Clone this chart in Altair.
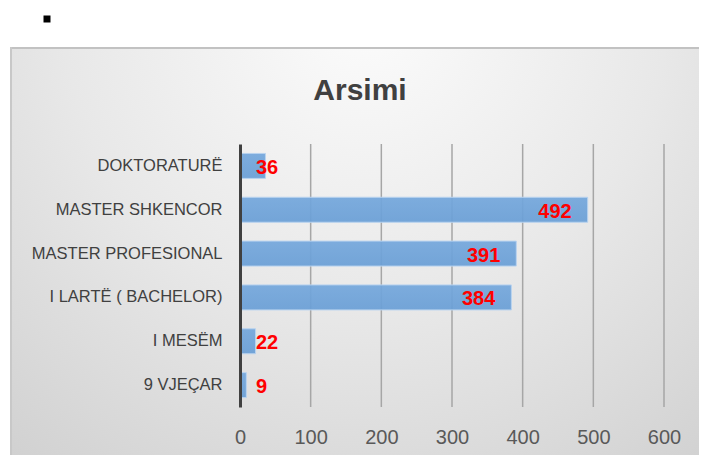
import altair as alt
import pandas as pd

categories = ["DOKTORATURË", "MASTER SHKENCOR", "MASTER PROFESIONAL",
              "I LARTË ( BACHELOR)", "I MESËM", "9 VJEÇAR"]
values = [36, 492, 391, 384, 22, 9]
x_ticks = [0, 100, 200, 300, 400, 500, 600]
title_text = "Arsimi"

df = pd.DataFrame({"cat": categories, "val": values})
grid_df = pd.DataFrame({"t": x_ticks[1:]})

W, H = 424, 263
LEFT, TOP, RIGHT, BOTTOM = 232, 136, 35, 48

xscale = alt.Scale(domain=[0, 600], nice=False)
yscale = alt.Scale(domain=categories, paddingInner=0.43, paddingOuter=0.215)

x_axis = alt.Axis(values=x_ticks, grid=False, domain=False, ticks=False,
                  labelFont="Liberation Sans", labelFontSize=20,
                  labelColor="#595959", labelPadding=20, title=None, zindex=1,
                  labelFlush=False, labelOverlap=False)

one = pd.DataFrame({"a": [0]})

bg = alt.Chart(one).mark_rect(
    clip=False,
    color=alt.Gradient(
        gradient="radial",
        stops=[alt.GradientStop(color="#fcfcfc", offset=0),
               alt.GradientStop(color="#e8e8e8", offset=0.5),
               alt.GradientStop(color="#cecece", offset=1)],
        x1=0.5, y1=0.15, r1=0, x2=0.5, y2=0.15, r2=0.85,
    ),
).encode(
    x=alt.value(10 - 240), x2=alt.value(720 - 240),
    y=alt.value(47 - 144), y2=alt.value(470 - 144),
)

border = alt.Chart(one).mark_rule(
    clip=False, color="#c2c2c2", strokeWidth=2
).encode(x=alt.value(10 - 240), x2=alt.value(720 - 240), y=alt.value(48 - 144))
border_l = alt.Chart(one).mark_rule(
    clip=False, color="#c8c8c8", strokeWidth=2
).encode(x=alt.value(11 - 240), y=alt.value(47 - 144), y2=alt.value(470 - 144))

bullet = alt.Chart(one).mark_square(
    clip=False, color="#000000", size=49, opacity=1, filled=True
).encode(x=alt.value(47 - 240), y=alt.value(19 - 144))

title = alt.Chart(pd.DataFrame({"t": [title_text]})).mark_text(
    clip=False, font="Liberation Sans", fontSize=30, fontWeight="bold",
    color="#404040", align="center", baseline="middle"
).encode(x=alt.value(360 - 240), y=alt.value(91 - 144), text="t:N")

grid = alt.Chart(grid_df).mark_rule(color="#a6a6a6", strokeWidth=1.5).encode(
    x=alt.X("t:Q", scale=xscale, axis=x_axis),
    y=alt.value(0), y2=alt.value(H),
)

base = alt.Chart(df)

bars = base.mark_bar(
    color=alt.Gradient(
        gradient="linear",
        stops=[alt.GradientStop(color="#74a7dc", offset=0),
               alt.GradientStop(color="#6a9fd6", offset=1)],
        x1=0, y1=0, x2=0, y2=1,
    ),
    fillOpacity=0.93,
    stroke="#b9d3ef", strokeWidth=1,
).encode(
    x=alt.X("val:Q", scale=xscale, axis=x_axis),
    y=alt.Y("cat:N", scale=yscale, sort=categories,
            axis=alt.Axis(domain=True, domainColor="#404040", domainWidth=3,
                          ticks=False, labelFont="Liberation Sans",
                          labelFontSize=16.5, labelColor="#404040",
                          labelPadding=18, labelLimit=400, title=None, zindex=1)),
)

big = base.transform_filter("datum.val >= 100").mark_text(
    font="Liberation Sans", fontSize=20, fontWeight="bold", color="#ff0000",
    align="right", baseline="middle", dx=-16, dy=2
).encode(x=alt.X("val:Q", scale=xscale), y=alt.Y("cat:N", scale=yscale, sort=categories),
         text="val:Q")

small = base.transform_filter("datum.val < 100").mark_text(
    font="Liberation Sans", fontSize=20, fontWeight="bold", color="#ff0000",
    align="left", baseline="middle", dx=16, dy=2
).encode(x=alt.datum(0, scale=xscale), y=alt.Y("cat:N", scale=yscale, sort=categories),
         text="val:Q")

chart = alt.layer(bg, border, border_l, bullet, title, grid, bars, big, small).properties(
    width=W, height=H,
    padding={"left": LEFT, "top": TOP, "right": RIGHT, "bottom": BOTTOM},
    autosize=alt.AutoSizeParams(type="none"),
    background="#ffffff",
).configure_view(stroke=None)

chart.save("out.html", embed_options={"renderer": "svg", "actions": False})
